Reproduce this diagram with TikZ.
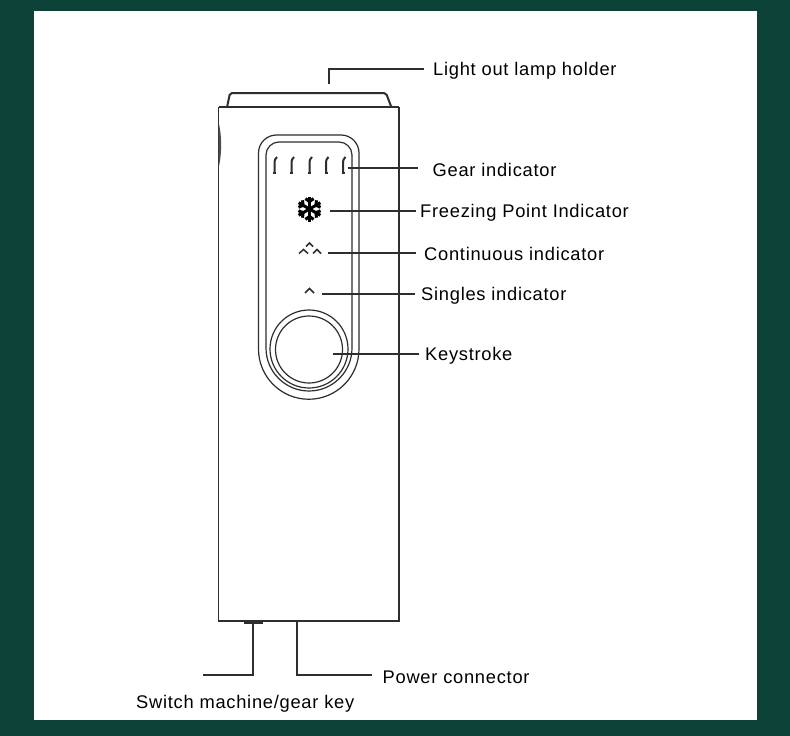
\documentclass[tikz,border=0pt]{standalone}
\usepackage{fontspec}
\setmainfont[LetterSpace=4.0]{Liberation Sans}
\usetikzlibrary{positioning}
\definecolor{framegreen}{HTML}{0D4239}
\definecolor{inkgray}{HTML}{2E2E2E}
\tikzset{%
  outline/.style = {draw=inkgray,line width=1.2pt},
  leader/.style = {draw=inkgray,line width=1.4pt},
  caption/.style = {inner sep=0pt,text=black,font=\fontsize{18.3}{20}\selectfont,anchor=base west},
  gearmark/.style = {draw=inkgray,line width=2pt},
  chevron/.style = {draw=inkgray,line width=1.5pt},
  flakearm/.style = {draw=black,line width=3pt}
}
\begin{document}
\begin{tikzpicture}[x=1pt,y=-1pt]
    \useasboundingbox (0,0) rectangle (790,736);
    \fill[framegreen] (0,0) rectangle (790,736);
    \fill[white] (34,11) rectangle (757,720);
    % body and lamp holder
    \draw[inkgray,line width=2pt,rounded corners=2pt] (227,107.5) -- (230,93) -- (386,93) -- (391.5,107.5);
    \draw[outline] (218.5,107.5) rectangle (399,621);
    \draw[inkgray,line width=2pt] (218.5,107) -- (399,107);
    \draw[inkgray,line width=2pt] (219,621) -- (399,621);
    \draw[inkgray,line width=2.4pt] (244,622.5) -- (263,622.5);
    \fill[inkgray!85] (218.5,122) .. controls (222,135) and (222,155) .. (218.5,168) -- cycle;
    % panel
    \draw[outline] (258.5,349) -- (258.5,153) arc[start angle=180,end angle=270,radius=18] -- (341,135) arc[start angle=270,end angle=360,radius=18] -- (359,349) arc[start angle=0,end angle=180,radius=50.25];
    \draw[outline] (266,348) -- (266,155) arc[start angle=180,end angle=270,radius=13] -- (339,142) arc[start angle=270,end angle=360,radius=13] -- (352,348) arc[start angle=0,end angle=180,radius=43];
    % keystroke
    \node[circle,outline,minimum size=78pt,inner sep=0pt] (keyring) at (309,349) {};
    \node[circle,outline,minimum size=67pt,inner sep=0pt] (keytop) at (309,349.5) {};
    % gear marks
    \foreach \i/\gx in {1/274.5,2/291.5,3/309.5,4/326,5/343}{
        \coordinate (gear\i) at (\gx,165);
        \draw[gearmark] (\gx,173) -- (\gx,164) .. controls (\gx,160) and (\gx+1,158) .. (\gx+2.5,157);
        \draw[gearmark] (\gx-1.5,173) -- (\gx+1.5,173);
    }
    % freezing point
    \coordinate (flake) at (309.5,209);
    \foreach \a in {30,90,...,330}{
        \draw[flakearm] (flake) -- ++(\a:12.5);
        \draw[flakearm] (flake) ++(\a:7.5) -- ++(\a+55:5);
        \draw[flakearm] (flake) ++(\a:7.5) -- ++(\a-55:5);
    }
    % chevrons
    \draw[chevron] (306,246.5) -- (309.5,243) -- (313,246.5);
    \draw[chevron] (299,253.5) -- (303.5,249.5) -- (308,253.5);
    \draw[chevron] (313,253.5) -- (317,249.5) -- (321,253.5);
    \draw[chevron] (305,293) -- (309.5,288.5) -- (314,293);
    % captions
    \node[caption] (lamp) at (433,75) {Light out lamp holder};
    \node[caption] (gear) at (432.5,176) {Gear indicator};
    \node[caption] (freeze) at (420,217) {Freezing Point Indicator};
    \node[caption] (cont) at (424,260) {Continuous indicator};
    \node[caption] (single) at (421,300) {Singles indicator};
    \node[caption] (key) at (425,360.5) {Keystroke};
    \node[caption] (power) at (382.5,683) {Power connector};
    \node[caption] (switch) at (136,708) {Switch machine/gear key};
    % leaders
    \coordinate (lampend) at (329,84);
    \coordinate (lampleft) at (424,69);
    \coordinate (gearright) at (418,168);
    \coordinate (gearleft) at (347.5,168);
    \coordinate (freezeleft) at (329.5,211);
    \coordinate (freezeright) at (416,211);
    \coordinate (contleft) at (328,253);
    \coordinate (contright) at (416,253);
    \coordinate (singleleft) at (322,294);
    \coordinate (singleright) at (415,294);
    \coordinate (keyleft) at (333,354);
    \coordinate (keyright) at (419,354);
    \coordinate (powertop) at (297,622);
    \coordinate (powerright) at (372,675);
    \coordinate (switchtop) at (253,623);
    \coordinate (switchleft) at (203,675);
    \draw[leader] (lampleft) -| (lampend);
    \draw[leader] (gearleft) -- (gearright);
    \draw[leader] (freezeleft) -- (freezeright);
    \draw[leader] (contleft) -- (contright);
    \draw[leader] (singleleft) -- (singleright);
    \draw[leader] (keyleft) -- (keyright);
    \draw[leader] (powertop) |- (powerright);
    \draw[leader] (switchtop) |- (switchleft);
\end{tikzpicture}
\end{document}
